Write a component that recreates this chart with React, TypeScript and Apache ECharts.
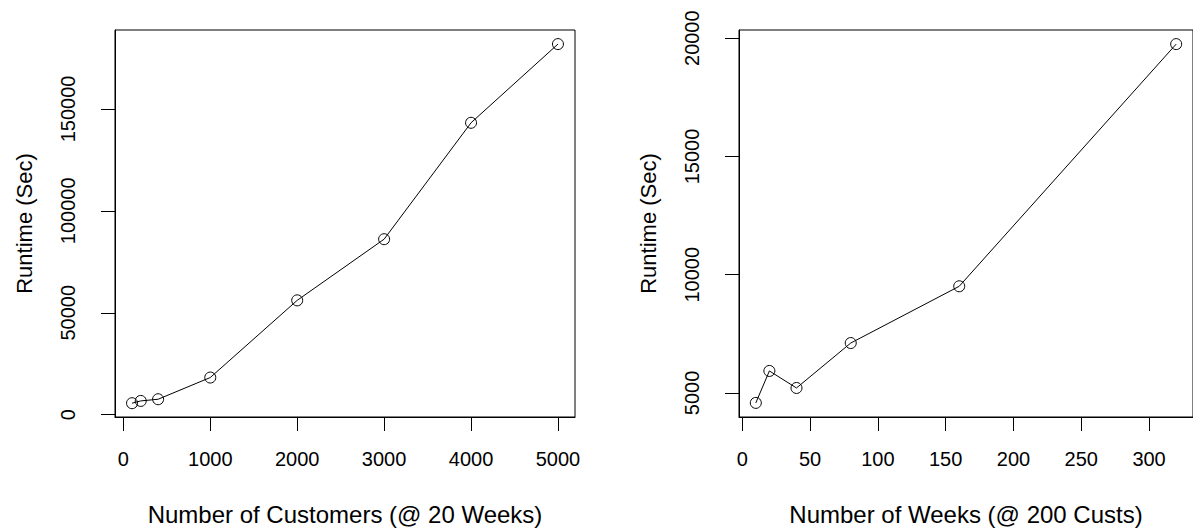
import React, { useEffect, useRef } from "react";
import * as echarts from "echarts";

const customers = [100, 200, 400, 1000, 2000, 3000, 4000, 5000];
const runtimeByCustomers = [5660, 6770, 7600, 18240, 56100, 86100, 143200, 181800];
const weeks = [10, 20, 40, 80, 160, 320];
const runtimeByWeeks = [4580, 5930, 5210, 7110, 9510, 19750];

const customerTicks = [0, 1000, 2000, 3000, 4000, 5000];
const runtimeCustTicks = [0, 50000, 100000, 150000];
const weekTicks = [0, 50, 100, 150, 200, 250, 300];
const runtimeWeekTicks = [5000, 10000, 15000, 20000];

const FONT = "Liberation Sans, Arial, Helvetica, sans-serif";
const FS = 20;

function axisCommon(ticks: number[], isY: boolean) {
  return {
    axisLine: { show: true, onZero: false, lineStyle: { color: "#000", width: 1 } },
    axisTick: {
      show: true,
      length: 14,
      customValues: ticks,
      lineStyle: { color: "#000", width: 1 },
    },
    axisLabel: {
      show: true,
      customValues: ticks,
      color: "#000",
      fontFamily: FONT,
      fontSize: FS,
      margin: isY ? 37 : 32,
      rotate: isY ? 90 : 0,
      formatter: (v: number) => String(v),
    },
    splitLine: { show: false },
    nameTextStyle: { color: "#000", fontFamily: FONT, fontSize: isY ? 22 : 24 },
    nameLocation: "middle" as const,
  };
}

export default function App() {
  const ref = useRef<HTMLDivElement>(null);
  useEffect(() => {
    document.body.style.margin = "0";
    const chart = echarts.init(ref.current!, null, { renderer: "svg" });
    chart.setOption({
      animation: false,
      backgroundColor: "#fff",
      textStyle: { fontFamily: FONT },
      grid: [
        { left: 115, top: 30, width: 460, height: 392, show: true, borderColor: "#000", borderWidth: 1, backgroundColor: "transparent" },
        { left: 739, top: 30, width: 460, height: 393, show: true, borderColor: "#000", borderWidth: 1, backgroundColor: "transparent" },
      ],
      xAxis: [
        {
          type: "value",
          gridIndex: 0,
          min: -96,
          max: 5196,
          name: "Number of Customers (@ 20 Weeks)",
          nameGap: 85,
          ...axisCommon(customerTicks, false),
        },
        {
          type: "value",
          gridIndex: 1,
          min: -2.4,
          max: 332.4,
          name: "Number of Weeks (@ 200 Custs)",
          nameGap: 85,
          ...axisCommon(weekTicks, false),
        },
      ],
      yAxis: [
        {
          type: "value",
          gridIndex: 0,
          min: -1113,
          max: 188710,
          name: "Runtime (Sec)",
          nameGap: 80,
          nameRotate: 90,
          ...axisCommon(runtimeCustTicks, true),
        },
        {
          type: "value",
          gridIndex: 1,
          min: 3983,
          max: 20346,
          name: "Runtime (Sec)",
          nameGap: 80,
          nameRotate: 90,
          ...axisCommon(runtimeWeekTicks, true),
        },
      ],
      series: [
        {
          type: "line",
          xAxisIndex: 0,
          yAxisIndex: 0,
          data: customers.map((c, i) => [c, runtimeByCustomers[i]]),
          symbol: "circle",
          symbolSize: 11,
          showAllSymbol: true,
          lineStyle: { color: "#000", width: 1 },
          itemStyle: { color: "rgba(0,0,0,0)", borderColor: "#000", borderWidth: 1 },
        },
        {
          type: "line",
          xAxisIndex: 1,
          yAxisIndex: 1,
          data: weeks.map((w, i) => [w, runtimeByWeeks[i]]),
          symbol: "circle",
          symbolSize: 11,
          showAllSymbol: true,
          lineStyle: { color: "#000", width: 1 },
          itemStyle: { color: "rgba(0,0,0,0)", borderColor: "#000", borderWidth: 1 },
        },
      ],
    });
    return () => chart.dispose();
  }, []);
  return <div ref={ref} style={{ width: 1193, height: 531 }} />;
}
